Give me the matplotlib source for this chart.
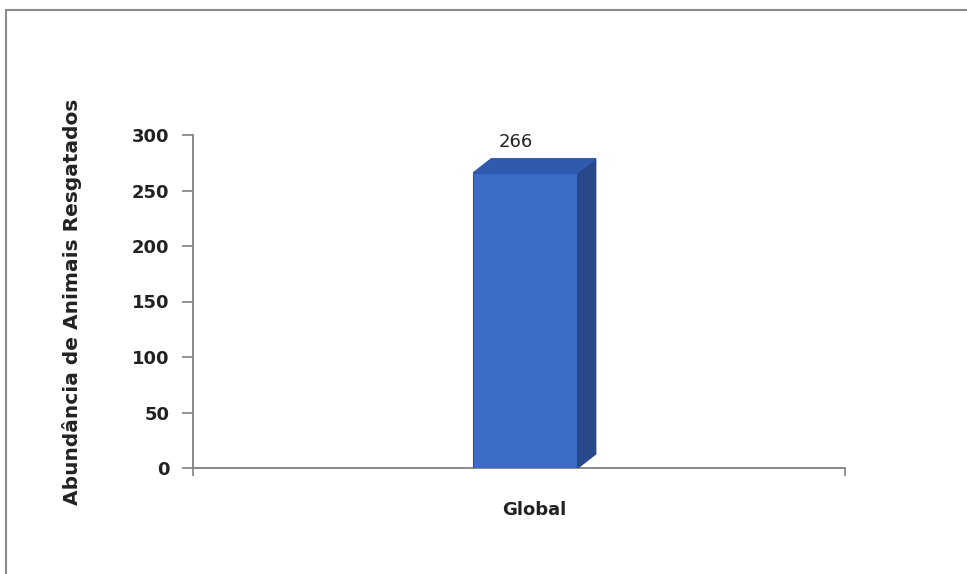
import matplotlib
matplotlib.use("Agg")
import matplotlib.pyplot as plt
from matplotlib.patches import Rectangle, Polygon

categories = ["Global"]
values = [266]
y_ticks = [0, 50, 100, 150, 200, 250, 300]
y_label = "Abundância de Animais Resgatados"

W, H = 967, 574
fig = plt.figure(figsize=(W / 100, H / 100), dpi=100)
fig.patch.set_facecolor("white")

# outer frame
fig.patches.append(Rectangle((6 / W, -0.01), 1.02, 1 - 10 / H + 0.01, transform=fig.transFigure,
                             fill=False, edgecolor="#8a8a8a", linewidth=1.5))

left, right = 193 / W, 845 / W
bottom, top = 1 - 468 / H, 1 - 135 / H
ax = fig.add_axes([left, bottom, right - left, top - bottom])

ax.set_xlim(-0.51, 0.49)
ax.set_ylim(0, 300)

bar_w = 0.16
dx = 18 / 652          # depth in x data units
dy = 14 * 300 / 333    # depth in y data units
front = "#3b6cc7"
side = "#27498c"
topc = "#2f5aae"

for i, (c, v) in enumerate(zip(categories, values)):
    x0 = i - bar_w / 2
    x1 = i + bar_w / 2
    ax.bar(i, v, width=bar_w, color=front, edgecolor="#2d539e", linewidth=0.8, zorder=3)
    ax.add_patch(Polygon([(x1, 0), (x1 + dx, dy), (x1 + dx, v + dy), (x1, v)],
                         closed=True, facecolor=side, edgecolor=side, zorder=3))
    ax.add_patch(Polygon([(x0, v), (x0 + dx, v + dy), (x1 + dx, v + dy), (x1, v)],
                         closed=True, facecolor=topc, edgecolor=topc, zorder=3))
    ax.text(i - 0.015, v + dy + 7, str(v), ha="center", va="bottom", fontsize=13,
            color="#222222", family="DejaVu Sans")

for s in ["top", "right"]:
    ax.spines[s].set_visible(False)
for s in ["left", "bottom"]:
    ax.spines[s].set_color("#808080")
    ax.spines[s].set_linewidth(1.3)

ax.set_yticks(y_ticks)
ax.set_yticklabels([str(t) for t in y_ticks], fontsize=13, fontweight="bold", color="#222222")
ax.tick_params(axis="y", direction="out", length=8, color="#808080", width=1.2, pad=9)

ax.set_xticks([0.013])
ax.set_xticklabels(categories, fontsize=13, fontweight="bold", color="#222222")
ax.tick_params(axis="x", length=0, pad=24)
ax.set_xticks([-0.51, 0.49], minor=True)
ax.tick_params(axis="x", which="minor", direction="out", length=6, color="#808080", width=1.2)

ax.set_ylabel(y_label, fontsize=14.5, fontweight="bold", color="#222222", labelpad=36)
ax.patch.set_alpha(0)

fig.savefig("out.png", dpi=100)
